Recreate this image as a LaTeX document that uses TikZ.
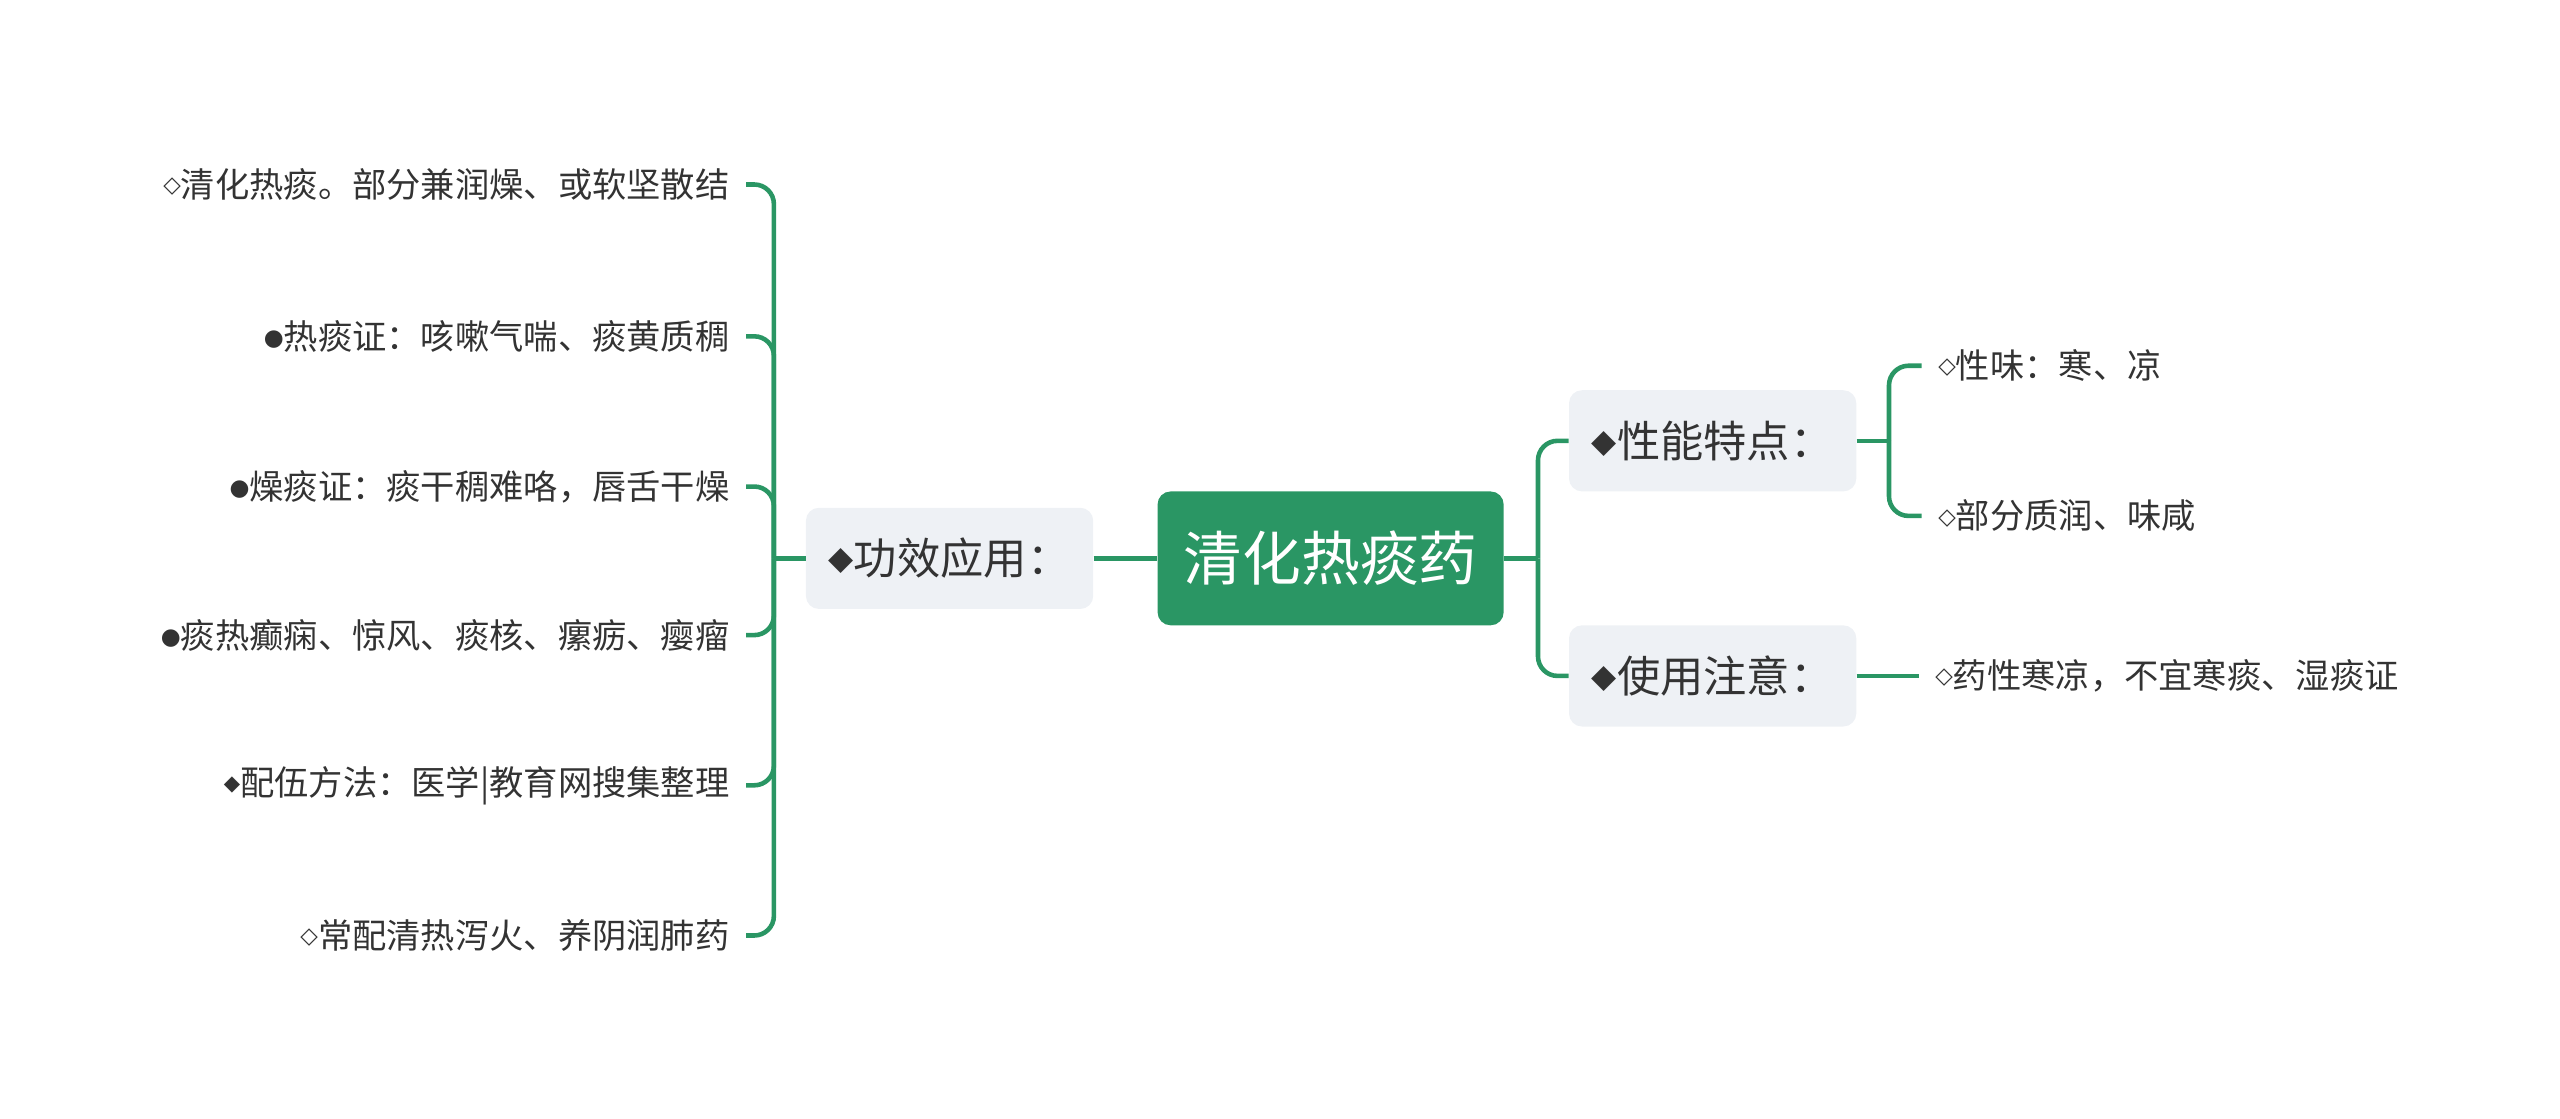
\documentclass[tikz,border=0pt]{standalone}
\usepackage{fontspec}
\setmainfont{Noto Sans CJK SC}
\newfontfamily\symfont{DejaVu Sans}
\usepackage{tikz}
\usetikzlibrary{positioning}
\definecolor{cGreen}{HTML}{2A9664}
\definecolor{cBox}{HTML}{EEF1F5}
\definecolor{cText}{HTML}{333333}
\newcommand{\hdia}{\raisebox{3pt}{\symfont\fontsize{14}{14}\selectfont ◇}}
\newcommand{\sdia}{\raisebox{3pt}{\symfont\fontsize{13}{13}\selectfont ◆}}
\newcommand{\sdot}{\raisebox{2.5pt}{\symfont\fontsize{14}{14}\selectfont ●}}
\newcommand{\bdia}{\raisebox{3pt}{\symfont\fontsize{20}{20}\selectfont ◆}}
\tikzset{
  root/.style={fill=cGreen, rounded corners=8pt, text=white, inner sep=0pt,
               minimum width=212pt, minimum height=82pt,
               font=\fontsize{36}{42}\selectfont},
  topic/.style={fill=cBox, rounded corners=8pt, text=cText, inner sep=0pt,
                minimum width=176pt, minimum height=62pt,
                font=\fontsize{26.5}{31}\selectfont},
  leaf/.style={text=cText, inner xsep=10pt, inner ysep=0pt,
               font=\fontsize{21}{25}\selectfont},
  link/.style={draw=cGreen, line width=2.8pt, rounded corners=12pt}
}
\begin{document}
\begin{tikzpicture}[x=1pt, y=-1pt]
\useasboundingbox (0,0) rectangle (1568,685);
% centre and main branches
\node[root] (root) at (815,342) {清化热痰药};
\node[topic, left=39pt of root] (func) {\bdia 功效应用：};
\node[topic] (prop) at (1049,270) {\bdia 性能特点：};
\node[topic] (use) at (1049,414) {\bdia 使用注意：};
% left leaves
\node[leaf, anchor=east] (l1) at (457,113) {\hdia 清化热痰。部分兼润燥、或软坚散结};
\node[leaf, anchor=east] (l2) at (457,206) {\sdot 热痰证：咳嗽气喘、痰黄质稠};
\node[leaf, anchor=east] (l3) at (457,298) {\sdot 燥痰证：痰干稠难咯，唇舌干燥};
\node[leaf, anchor=east] (l4) at (457,389) {\sdot 痰热癫痫、惊风、痰核、瘰疬、瘿瘤};
\node[leaf, anchor=east] (l5) at (457,481) {\sdia 配伍方法：医学|教育网搜集整理};
\node[leaf, anchor=east] (l6) at (457,573) {\hdia 常配清热泻火、养阴润肺药};
% right leaves
\node[leaf, anchor=west] (p1) at (1177,224) {\hdia 性味：寒、凉};
\node[leaf, anchor=west] (p2) at (1177,316) {\hdia 部分质润、味咸};
\node[leaf, right=38pt of use] (u1) {\hdia 药性寒凉，不宜寒痰、湿痰证};
% connectors
\coordinate (bL) at (474,342);
\coordinate (bR) at (942,342);
\coordinate (bP) at (1157,270);
\draw[link] (func.east) -- (root.west);
\draw[link] (func.west) -- (bL);
\draw[link] (bL) |- (l1.east); \draw[link] (bL) |- (l2.east);
\draw[link] (bL) |- (l3.east); \draw[link] (bL) |- (l4.east);
\draw[link] (bL) |- (l5.east); \draw[link] (bL) |- (l6.east);
\draw[link] (root.east) -- (bR);
\draw[link] (bR) |- (prop.west); \draw[link] (bR) |- (use.west);
\draw[link] (prop.east) -- (bP);
\draw[link] (bP) |- (p1.west); \draw[link] (bP) |- (p2.west);
\draw[link] (use.east) -- (u1.west);
\end{tikzpicture}
\end{document}
